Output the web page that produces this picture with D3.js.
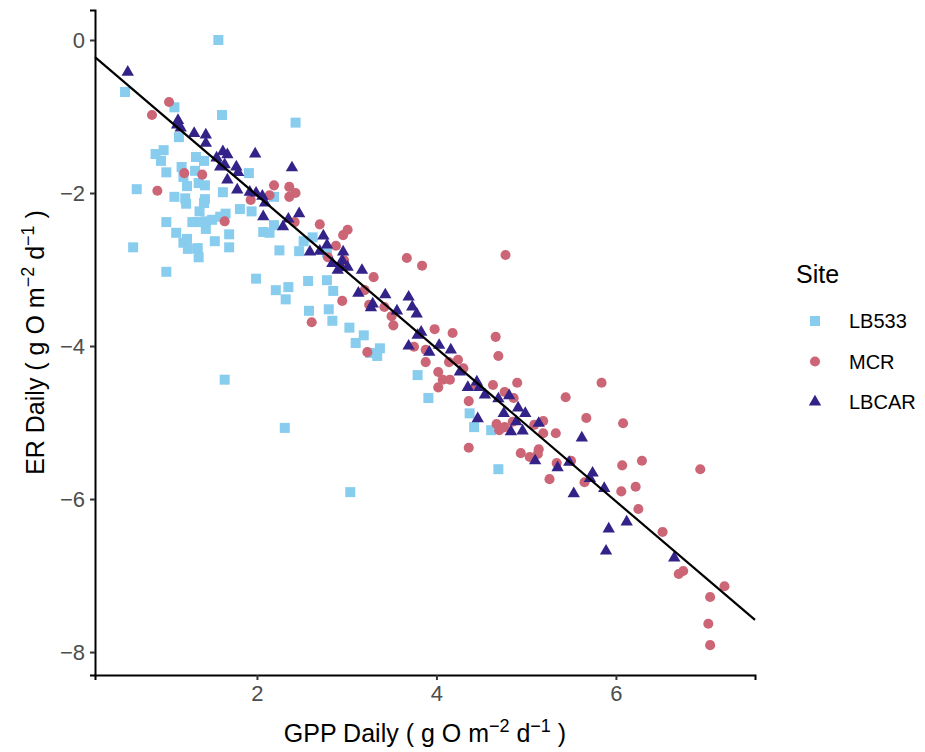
<!DOCTYPE html>
<html lang="en">
<head>
  <meta charset="UTF-8" />
  <title>ER vs GPP by site</title>
  <script src="https://d3js.org/d3.v7.min.js"></script>
  <style>
    body {
      margin: 0;
      background: white;
      font-family: "Liberation Sans", Arial, sans-serif;
    }
  </style>
</head>
<body>
  <svg width="925" height="752"></svg>
  <script>
    // GPP (x) and ER (y) daily values, g O m-2 d-1
    const lb533GPP = [1.57, 0.53, 1.08, 1.61, 2.43, 1.13, 0.87, 0.96, 0.93, 0.99, 1.16, 1.32, 1.41, 1.31,
      1.18, 1.22, 1.35, 1.42, 1.08, 1.20, 1.21, 1.42, 1.41, 1.62, 1.91, 1.81, 1.94, 1.36, 0.66, 0.99,
      1.10, 1.22, 1.18, 1.23, 1.28, 1.35, 1.43, 1.50, 1.59, 1.65, 1.43, 1.34, 1.35, 1.53, 1.69, 1.69,
      0.62, 0.99, 1.99, 2.19, 2.07, 2.14, 2.25, 2.47, 2.52, 2.62, 2.21, 2.35, 2.32, 2.57, 2.58, 2.19,
      2.78, 2.78, 2.85, 2.80, 2.84, 3.03, 3.19, 3.10, 3.26, 3.37, 3.34, 1.64, 2.31, 3.04, 3.79, 3.91,
      4.37, 4.42, 4.61, 4.69];
    const lb533ER = [0.00, -0.68, -0.88, -0.98, -1.08, -1.27, -1.49, -1.44, -1.58, -1.73, -1.66, -1.53, -1.58, -1.71,
      -1.79, -1.91, -1.87, -1.90, -2.05, -2.07, -2.14, -2.08, -2.13, -1.99, -1.74, -2.21, -2.24, -2.24, -1.95, -2.38,
      -2.52, -2.60, -2.65, -2.73, -2.38, -2.38, -2.37, -2.35, -2.31, -2.27, -2.47, -2.72, -2.84, -2.63, -2.54, -2.71,
      -2.71, -3.03, -3.12, -2.42, -2.51, -2.52, -2.75, -2.76, -2.63, -2.58, -3.27, -3.23, -3.39, -3.15, -3.54, -2.05,
      -2.78, -3.14, -3.28, -3.52, -3.67, -3.76, -3.86, -3.96, -4.09, -4.03, -4.13, -4.44, -5.07, -5.91, -4.38, -4.68,
      -4.88, -5.06, -5.10, -5.61];

    const mcrGPP = [1.02, 0.83, 1.19, 1.39, 0.89, 1.93, 1.64, 2.19, 2.36, 2.43, 2.36, 2.14, 2.42, 2.70,
      2.61, 3.01, 2.96, 2.88, 2.79, 2.97, 3.30, 3.67, 3.84, 2.95, 3.25, 3.42, 3.50, 3.52, 3.20, 3.23,
      3.75, 3.88, 4.77, 3.98, 4.18, 4.66, 4.69, 3.88, 4.02, 4.07, 4.15, 4.02, 4.14, 4.24, 4.30, 4.36,
      4.63, 4.90, 4.76, 4.86, 4.44, 5.84, 5.44, 5.67, 6.08, 6.07, 4.67, 4.76, 4.70, 4.85, 5.19, 5.09,
      5.19, 5.33, 4.36, 4.94, 5.04, 5.14, 5.13, 5.34, 5.50, 5.26, 5.65, 6.29, 6.06, 6.22, 6.25, 6.52,
      6.94, 6.70, 6.75, 7.21, 7.05, 7.03, 7.05];
    const mcrER = [-0.81, -0.98, -1.74, -1.76, -1.97, -2.09, -2.37, -1.90, -1.92, -2.00, -2.05, -2.03, -2.38, -2.41,
      -3.69, -2.48, -2.55, -2.69, -2.84, -2.88, -3.10, -2.85, -2.95, -3.41, -3.46, -3.49, -3.61, -3.73, -3.27, -4.08,
      -4.01, -4.05, -2.81, -3.78, -3.83, -3.88, -4.13, -4.21, -4.34, -4.44, -4.44, -4.54, -4.21, -4.18, -4.29, -4.72,
      -4.51, -4.48, -4.60, -4.68, -4.52, -4.48, -4.67, -4.94, -5.01, -5.56, -5.02, -5.06, -5.10, -4.99, -4.98, -5.03,
      -5.14, -5.14, -5.33, -5.40, -5.45, -5.35, -5.41, -5.53, -5.50, -5.74, -5.78, -5.50, -5.90, -5.84, -6.13, -6.43,
      -5.61, -6.98, -6.94, -7.14, -7.28, -7.63, -7.91];

    const lbcarGPP = [0.56, 1.12, 1.11, 1.15, 1.30, 1.43, 1.43, 1.62, 1.67, 1.55, 1.59, 1.64, 1.77, 1.79,
      1.67, 1.78, 1.92, 1.99, 1.98, 2.39, 2.06, 2.09, 2.07, 2.29, 2.35, 2.47, 2.59, 2.70, 2.74, 2.78,
      2.96, 2.95, 2.84, 2.90, 2.94, 3.01, 3.17, 3.13, 3.29, 3.27, 3.43, 3.56, 3.69, 3.73, 3.78, 3.83,
      3.79, 3.69, 3.92, 4.03, 4.16, 4.26, 4.35, 4.45, 4.48, 4.54, 4.69, 4.81, 4.75, 4.91, 4.99, 4.89,
      4.83, 4.96, 5.14, 4.46, 5.10, 5.35, 5.48, 5.62, 5.74, 5.71, 5.53, 5.87, 6.12, 5.92, 5.89, 6.65];
    const lbcarER = [-0.42, -1.05, -1.11, -1.15, -1.22, -1.24, -1.35, -1.46, -1.50, -1.54, -1.66, -1.63, -1.66, -1.73,
      -1.83, -1.96, -1.99, -2.00, -1.49, -1.67, -2.04, -2.13, -2.31, -2.44, -2.34, -2.27, -2.77, -2.76, -2.56, -2.68,
      -2.77, -2.88, -2.92, -3.01, -2.97, -2.97, -3.01, -3.31, -3.45, -3.50, -3.33, -3.54, -3.36, -3.49, -3.58, -3.82,
      -3.86, -4.00, -4.08, -3.99, -4.05, -4.34, -4.54, -4.47, -4.54, -4.64, -4.69, -4.65, -4.88, -4.81, -4.88, -4.99,
      -5.12, -5.11, -5.01, -4.95, -5.50, -5.59, -5.52, -5.20, -5.66, -5.73, -5.93, -5.86, -6.30, -6.39, -6.68, -6.77];

    const sites = ["LB533", "MCR", "LBCAR"];
    const siteColors = ["#88CCEE", "#CC6677", "#332288"];
    const xTicks = [2, 4, 6];
    const yTicks = [0, -2, -4, -6, -8];
    // linear fit drawn on the figure: ER = a + b * GPP
    const fitIntercept = -0.03;
    const fitSlope = -1.0;

    const svg = d3.select("svg");
    const panel = { left: 95, right: 755, top: 10, bottom: 675 };

    const x = d3.scaleLinear().domain([0.195, 7.55]).range([panel.left, panel.right]);
    const y = d3.scaleLinear().domain([-8.30, 0.392]).range([panel.bottom, panel.top]);

    const shapes = [d3.symbolSquare, d3.symbolCircle, d3.symbolTriangle];
    const sizes = [100, 80, 66];

    const series = [
      lb533GPP.map((g, i) => ({ gpp: g, er: lb533ER[i] })),
      mcrGPP.map((g, i) => ({ gpp: g, er: mcrER[i] })),
      lbcarGPP.map((g, i) => ({ gpp: g, er: lbcarER[i] }))
    ];

    // Points, drawn site by site
    series.forEach((pts, s) => {
      svg.append("g").selectAll("path")
        .data(pts)
        .enter()
        .append("path")
        .attr("d", d3.symbol().type(shapes[s]).size(sizes[s]))
        .attr("transform", d => `translate(${x(d.gpp)},${y(d.er)})`)
        .attr("fill", siteColors[s]);
    });

    // Fit line across the panel
    const xd = x.domain();
    svg.append("line")
      .attr("x1", x(xd[0])).attr("y1", y(fitIntercept + fitSlope * xd[0]))
      .attr("x2", x(xd[1])).attr("y2", y(fitIntercept + fitSlope * xd[1]))
      .attr("stroke", "black")
      .attr("stroke-width", 2.2);

    // Axes (theme_classic look)
    const xAxis = svg.append("g")
      .attr("transform", `translate(0,${panel.bottom})`)
      .call(d3.axisBottom(x).tickValues(xTicks).tickSize(5).tickPadding(5).tickFormat(d3.format("d")));
    const yAxis = svg.append("g")
      .attr("transform", `translate(${panel.left},0)`)
      .call(d3.axisLeft(y).tickValues(yTicks).tickSize(5).tickPadding(5)
        .tickFormat(d => d < 0 ? "\u2212" + Math.abs(d) : d));

    [xAxis, yAxis].forEach(a => {
      a.select(".domain").attr("stroke", "black").attr("stroke-width", 2);
      a.selectAll(".tick line").attr("stroke", "#333").attr("stroke-width", 2);
      a.selectAll(".tick text")
        .attr("fill", "#4d4d4d")
        .style("font-family", "'Liberation Sans', Arial, sans-serif")
        .style("font-size", "22px");
    });

    // Axis titles with superscripts
    function unitTitle(sel, label) {
      sel.append("tspan").text(label + " ( g O m");
      sel.append("tspan").attr("dy", -10).attr("font-size", 18).text("\u22122");
      sel.append("tspan").attr("dy", 10).text(" d");
      sel.append("tspan").attr("dy", -10).attr("font-size", 18).text("\u22121");
      sel.append("tspan").attr("dy", 10).text(" )");
    }

    svg.append("text")
      .attr("x", (panel.left + panel.right) / 2)
      .attr("y", 742)
      .attr("font-size", 25)
      .attr("text-anchor", "middle")
      .call(unitTitle, "GPP Daily");

    svg.append("text")
      .attr("transform", `translate(44,${(panel.top + panel.bottom) / 2}) rotate(-90)`)
      .attr("font-size", 25)
      .attr("text-anchor", "middle")
      .call(unitTitle, "ER Daily");

    // Legend
    const legend = svg.append("g").attr("transform", "translate(795,0)");
    legend.append("text")
      .attr("x", 1).attr("y", 283)
      .attr("font-size", 25)
      .text("Site");

    sites.forEach((name, i) => {
      const cy = 321 + i * 40.5;
      legend.append("path")
        .attr("d", d3.symbol().type(shapes[i]).size(sizes[i]))
        .attr("transform", `translate(20,${cy})`)
        .attr("fill", siteColors[i]);
      legend.append("text")
        .attr("x", 54).attr("y", cy + 7)
        .attr("font-size", 20)
        .text(name);
    });
  </script>
</body>
</html>
